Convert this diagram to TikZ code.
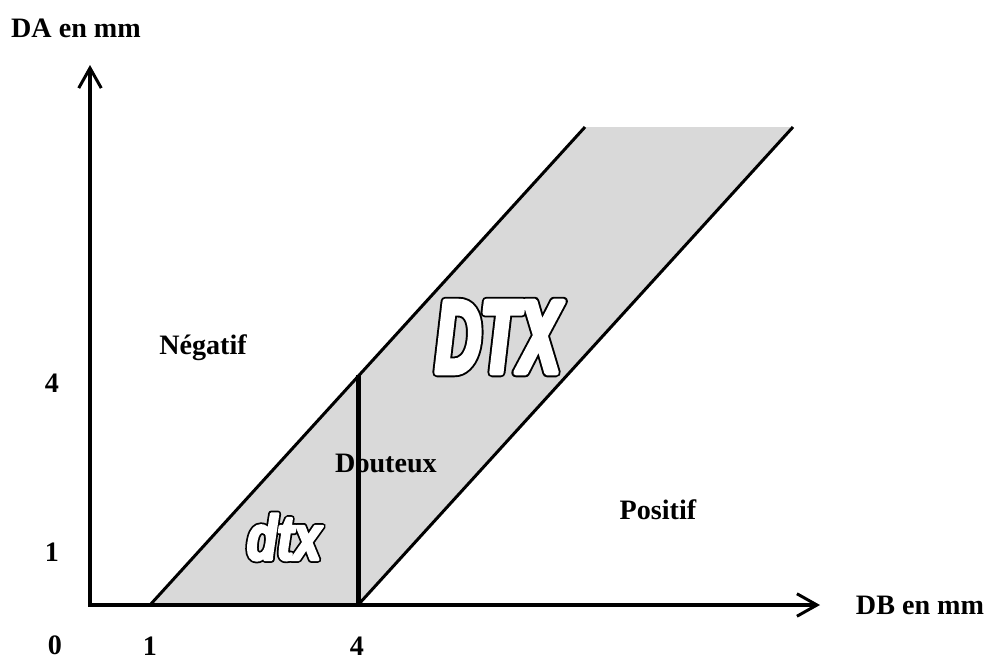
\documentclass[tikz,border=0pt]{standalone}
\usepackage{fontspec}
\setmainfont{Liberation Serif}
\newfontfamily\dtxfont[FakeStretch=0.6]{Liberation Sans}
\newfontfamily\dtxsmall[FakeStretch=0.78]{Liberation Sans}
\usetikzlibrary{arrows.meta}

\definecolor{bandgray}{HTML}{D9D9D9}
% heavy outlined letters: black halo under white emboldened letters
\newcommand{\outlined}[3]{\rlap{\special{pdf:literal direct 1 j 2 Tr #2 w 0 g 0 G}#3}%
  \special{pdf:literal direct 1 j 2 Tr #1 w 1 g 1 G}#3\special{pdf:literal direct 0 Tr 0 g 0 G}}

\begin{document}
\begin{tikzpicture}[
    x=0.2mm, y=-0.2mm,
    lbl/.style={font=\fontsize{16}{18}\selectfont\bfseries, inner sep=0pt},
    axis/.style={line width=0.8mm, {Straight Barb[length=4mm, width=4.5mm, line width=0.6mm]}-{Straight Barb[length=4mm, width=4.5mm, line width=0.6mm]}},
    border/.style={line width=0.6mm},
    bigtxt/.style={font=\fontsize{#1}{#1}\selectfont\bfseries\itshape, inner sep=0pt}
  ]
  \useasboundingbox (0,0) rectangle (988,660);

  % band between the two lines
  \coordinate (b1) at (150,605);
  \coordinate (b4) at (358,605);
  \coordinate (t1) at (585,127);
  \coordinate (t4) at (793,127);
  \coordinate (v4) at (358,375);
  \fill[bandgray] (b1) -- (t1) -- (t4) -- (b4) -- cycle;
  \draw[border] (b1) -- (t1);
  \draw[border] (b4) -- (t4);
  \draw[line width=1mm] (b4) -- (v4);

  % axes
  \coordinate (O) at (90,605);
  \coordinate (ytop) at (90,65);
  \coordinate (xend) at (820,605);
  \draw[axis] (ytop) -- (O) -- (xend);

  \node[lbl] (da) at (76,28) {DA en mm};
  \node[lbl] (db) at (920,605) {DB en mm};
  \node[lbl] (x0) at (55,645) {0};
  \node[lbl] (x1) at (150,646) {1};
  \node[lbl] (x4) at (357,646) {4};
  \node[lbl] (y4) at (52,383) {4};
  \node[lbl] (y1) at (52,552) {1};

  \node[lbl] (neg) at (203,348) {Négatif};
  \node[lbl] (dout) at (386,463) {Douteux};
  \node[lbl] (pos) at (658,510) {Positif};

  \node[bigtxt=59] (big) at (498,337) {\dtxfont\outlined{3}{5.2}{DTX}};
  \node[bigtxt=36] (small) at (284,537) {\dtxsmall\outlined{1.6}{3.6}{dtx}};
\end{tikzpicture}
\end{document}
